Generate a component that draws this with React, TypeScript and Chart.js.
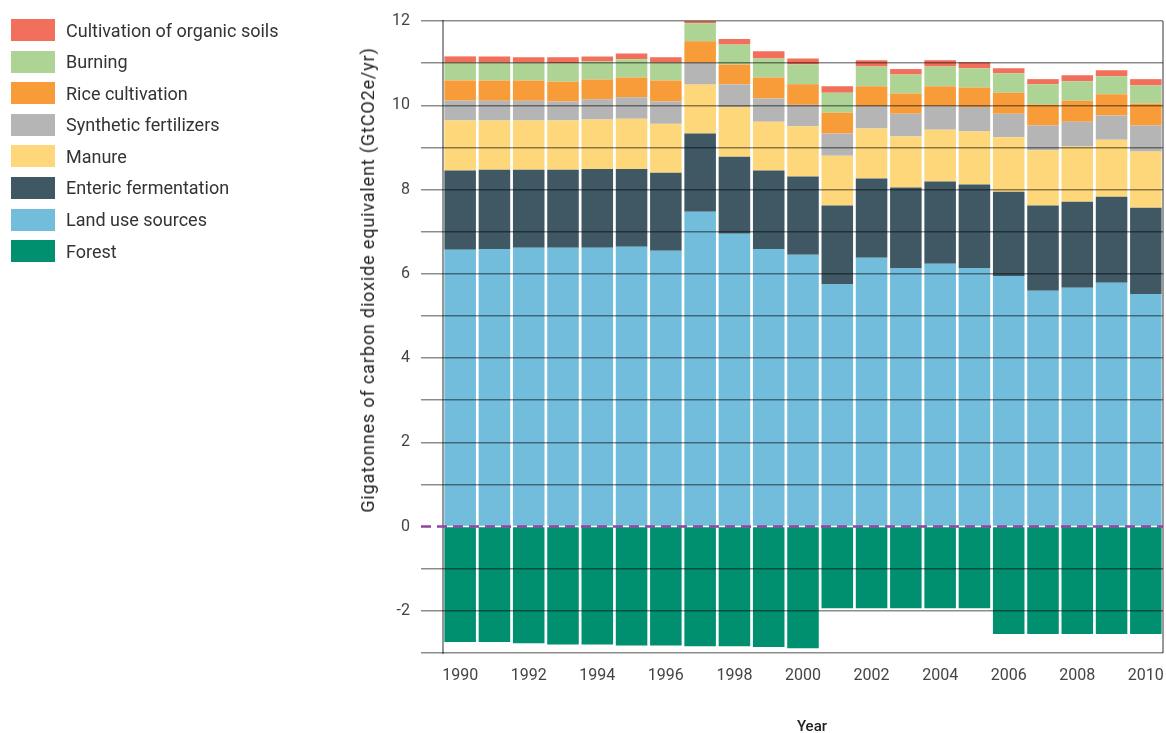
import React, { useEffect, useRef } from "react";
import { Chart, registerables } from "chart.js";
Chart.register(...registerables);

const years = ["1990","1991","1992","1993","1994","1995","1996","1997","1998","1999","2000","2001","2002","2003","2004","2005","2006","2007","2008","2009","2010"];

const forest = [-2.74,-2.74,-2.77,-2.80,-2.80,-2.82,-2.82,-2.84,-2.84,-2.86,-2.89,-1.94,-1.94,-1.94,-1.94,-1.94,-2.55,-2.55,-2.55,-2.55,-2.55];
const landUse = [6.57,6.59,6.62,6.62,6.62,6.64,6.55,7.47,6.95,6.59,6.45,5.76,6.38,6.14,6.24,6.14,5.95,5.60,5.67,5.79,5.52];
const enteric = [1.88,1.88,1.85,1.85,1.87,1.85,1.85,1.86,1.83,1.86,1.86,1.86,1.88,1.91,1.95,1.98,2.00,2.02,2.04,2.04,2.05];
const manure = [1.19,1.17,1.17,1.17,1.17,1.19,1.16,1.16,1.18,1.16,1.19,1.18,1.19,1.21,1.23,1.26,1.29,1.31,1.31,1.35,1.33];
const synthetic = [0.47,0.47,0.47,0.45,0.48,0.51,0.53,0.52,0.53,0.55,0.51,0.53,0.53,0.54,0.56,0.58,0.56,0.59,0.59,0.58,0.62];
const rice = [0.48,0.48,0.48,0.47,0.47,0.47,0.50,0.51,0.48,0.50,0.49,0.49,0.47,0.48,0.47,0.46,0.50,0.50,0.50,0.50,0.52];
const burning = [0.42,0.42,0.42,0.44,0.43,0.43,0.42,0.43,0.47,0.45,0.47,0.48,0.47,0.45,0.47,0.46,0.46,0.48,0.46,0.43,0.43];
const organicSoils = [0.15,0.15,0.13,0.14,0.12,0.14,0.13,0.11,0.13,0.17,0.14,0.15,0.15,0.13,0.15,0.14,0.12,0.12,0.14,0.14,0.15];

const seriesNames = ["Forest","Land use sources","Enteric fermentation","Manure","Synthetic fertilizers","Rice cultivation","Burning","Cultivation of organic soils"];
const seriesColors = ["#00906f","#72bcdc","#3f5864","#fed77a","#b5b5b5","#f89c3a","#aed495","#f26f5c"];
const seriesData = [forest, landUse, enteric, manure, synthetic, rice, burning, organicSoils];

const yTitle = "Gigatonnes of carbon dioxide equivalent (GtCO2e/yr)";
const xTitle = "Year";

const overlayPlugin = {
  id: "overlay",
  afterDraw(chart: any) {
    const { ctx, chartArea, scales } = chart;
    const y0 = scales.y.getPixelForValue(0);
    ctx.save();
    ctx.strokeStyle = "rgba(0,0,0,0.55)";
    ctx.lineWidth = 1.5;
    ctx.beginPath();
    ctx.moveTo(chartArea.left, chartArea.top - 1);
    ctx.lineTo(chartArea.left, chartArea.bottom + 1);
    ctx.stroke();
    ctx.strokeStyle = "rgba(0,0,0,0.4)";
    ctx.lineWidth = 2;
    ctx.beginPath();
    ctx.moveTo(chartArea.right, chartArea.top);
    ctx.lineTo(chartArea.right, chartArea.bottom);
    ctx.stroke();
    ctx.strokeStyle = "#8e44a0";
    ctx.lineWidth = 2.5;
    ctx.setLineDash([10, 6]);
    ctx.beginPath();
    ctx.moveTo(chartArea.left - 22, y0);
    ctx.lineTo(chartArea.right, y0);
    ctx.stroke();
    ctx.restore();
  },
};

export default function App() {
  const ref = useRef<HTMLCanvasElement>(null);
  useEffect(() => {
    if (!ref.current) return;
    const gridColor = "rgba(0,0,0,0.45)";
    const chart = new Chart(ref.current, {
      type: "bar",
      data: {
        labels: years,
        datasets: seriesData.map((d, i) => ({
          label: seriesNames[i],
          data: d,
          backgroundColor: seriesColors[i],
          borderWidth: 0,
          stack: "s",
          categoryPercentage: 1,
          barPercentage: 0.92,
        })),
      },
      options: {
        animation: false,
        responsive: true,
        maintainAspectRatio: false,
        layout: { padding: { left: 0, top: 21, right: 3, bottom: 0 } },
        plugins: { legend: { display: false }, tooltip: { enabled: false } },
        scales: {
          x: {
            stacked: true,
            grid: { display: false, drawTicks: false },
            border: { display: false },
            ticks: {
              autoSkip: false,
              maxRotation: 0,
              padding: 13,
              color: "#444",
              font: { family: "Roboto", size: 16 },
              callback: (_v: any, i: number) => (i % 2 === 0 ? years[i] : ""),
            },
            afterFit: (s: any) => {
              s.height = 80;
              s.paddingLeft = 0;
              s.paddingRight = 0;
            },
          },
          y: {
            stacked: true,
            min: -3,
            max: 12,
            grid: {
              z: 1,
              lineWidth: 1.5,
              tickLength: 22,
              color: (c: any) => (c.tick && c.tick.value === 0 ? "rgba(0,0,0,0)" : gridColor),
              tickColor: (c: any) => (c.tick && c.tick.value === 0 ? "rgba(0,0,0,0)" : gridColor),
            },
            border: { display: false },
            ticks: {
              stepSize: 1,
              padding: 11,
              color: "#444",
              font: { family: "Roboto", size: 16 },
              callback: (v: any) => (Number(v) % 2 === 0 ? String(v) : ""),
            },
            afterFit: (s: any) => {
              s.width = 443;
              s.paddingTop = 0;
              s.paddingBottom = 0;
            },
          },
        },
      },
      plugins: [overlayPlugin],
    });
    return () => chart.destroy();
  }, []);

  const legendItems = seriesNames.map((n, i) => ({ n, c: seriesColors[i] })).reverse();

  return (
    <div style={{ position: "absolute", left: 0, top: 0, width: 1166, height: 733, background: "#fff", overflow: "hidden" }}>
      <div style={{ position: "absolute", left: 0, top: 0, width: 1166, height: 733 }}>
        <canvas ref={ref} />
      </div>
      <div style={{ position: "absolute", left: 11, top: 19, fontFamily: "Roboto", fontSize: 18, color: "#333" }}>
        {legendItems.map((it) => (
          <div key={it.n} style={{ display: "flex", alignItems: "center", height: 22, marginBottom: 9.6 }}>
            <div style={{ width: 44, height: 22, background: it.c, marginRight: 11 }} />
            <span style={{ whiteSpace: "nowrap" }}>{it.n}</span>
          </div>
        ))}
      </div>
      <div
        style={{
          position: "absolute",
          left: 368,
          top: 280,
          transform: "translate(-50%, -50%) rotate(-90deg)",
          whiteSpace: "nowrap",
          fontFamily: "Roboto",
          fontSize: 18,
          letterSpacing: "0.85px",
          lineHeight: "20px",
          color: "#222",
        }}
      >
        {yTitle}
      </div>
      <div
        style={{
          position: "absolute",
          left: 812,
          top: 726,
          transform: "translate(-50%, -50%)",
          whiteSpace: "nowrap",
          fontFamily: "Roboto",
          fontWeight: 500,
          fontSize: 15,
          lineHeight: "18px",
          color: "#222",
        }}
      >
        {xTitle}
      </div>
    </div>
  );
}
